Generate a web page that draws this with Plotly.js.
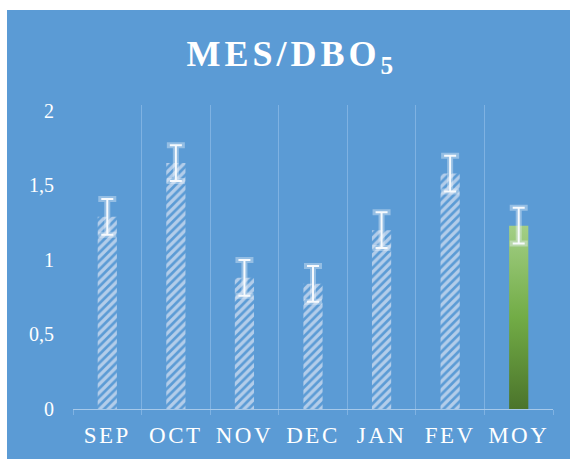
<!DOCTYPE html>
<html>
<head>
<meta charset="utf-8">
<script src="https://cdn.plot.ly/plotly-3.0.1.min.js"></script>
<style>
  html, body { margin: 0; padding: 0; background: #ffffff; width: 570px; height: 459px; overflow: hidden; }
  #chart { position: absolute; left: 7px; top: 10px; width: 563px; height: 449px; }
  .xtick text { letter-spacing: 2.5px; }
  .gtitle { letter-spacing: 4px; }
</style>
</head>
<body>
<div id="chart"></div>
<script>
// Data
const months = ['SEP', 'OCT', 'NOV', 'DEC', 'JAN', 'FEV', 'MOY'];
const values = [1.29, 1.65, 0.88, 0.84, 1.20, 1.58, 1.23];
const errors = [0.12, 0.12, 0.12, 0.12, 0.12, 0.12, 0.12];
const yTicks = [0, 0.5, 1, 1.5, 2];

// Styles
const hatchBg = '#b3cdea';
const hatchFg = '#f2f6fb';
const moyColor = '#70ad47';
const barColors = months.map(m => m === 'MOY' ? moyColor : hatchBg);
const barShapes = months.map(m => m === 'MOY' ? '' : '/');

const mainTrace = {
  type: 'bar',
  x: months,
  y: values,
  marker: {
    color: barColors,
    line: { width: 0 },
    pattern: { shape: barShapes, fgcolor: hatchFg, size: 6, solidity: 0.55, fillmode: 'replace' }
  },
  error_y: { type: 'data', array: errors, visible: true, color: '#ffffff', thickness: 2, width: 6 },
  hoverinfo: 'x+y'
};

const glowTrace = {
  type: 'bar',
  x: months,
  y: values,
  marker: { color: 'rgba(255,255,255,0)', line: { width: 0 } },
  error_y: { type: 'data', array: errors, visible: true, color: 'rgba(235,242,250,0.4)', thickness: 6, width: 9 },
  hoverinfo: 'skip',
  showlegend: false
};

const layout = {
  width: 563,
  height: 449,
  paper_bgcolor: '#5b9bd5',
  plot_bgcolor: '#5b9bd5',
  separators: ', ',
  showlegend: false,
  barmode: 'overlay',
  bargap: 0.72,
  margin: { l: 66, r: 17, t: 95, b: 50 },
  title: {
    text: 'MES/DBO<sub>5</sub>',
    font: { family: 'Liberation Serif', size: 36, color: '#ffffff', weight: 'bold' },
    x: 0.506, xanchor: 'center',
    yref: 'container', y: 0.903, yanchor: 'middle'
  },
  xaxis: {
    type: 'category',
    tickson: 'boundaries',
    showgrid: true,
    gridcolor: '#7fb2e2',
    gridwidth: 1,
    ticks: 'outside',
    ticklen: 5,
    tickcolor: '#7fb2e2',
    showline: true,
    linecolor: '#a6c9ea',
    linewidth: 1,
    zeroline: false,
    tickfont: { family: 'Liberation Serif', size: 23, color: '#ffffff' },
    ticklabelstandoff: 5,
    fixedrange: true
  },
  yaxis: {
    range: [0, 2.04],
    tickvals: yTicks,
    showgrid: false,
    zeroline: false,
    showline: false,
    ticks: '',
    tickfont: { family: 'Liberation Serif', size: 20, color: '#ffffff' },
    ticklabelstandoff: 18,
    fixedrange: true
  }
};

Plotly.newPlot('chart', [mainTrace, glowTrace], layout, { displayModeBar: false, staticPlot: true }).then(function (gd) {
  // Vertical gradient for the MOY bar
  const svg = gd.querySelector('svg.main-svg');
  const ns = 'http://www.w3.org/2000/svg';
  let defs = svg.querySelector('defs');
  if (!defs) { defs = document.createElementNS(ns, 'defs'); svg.insertBefore(defs, svg.firstChild); }
  const grad = document.createElementNS(ns, 'linearGradient');
  grad.setAttribute('id', 'moyGrad');
  grad.setAttribute('x1', '0'); grad.setAttribute('y1', '0');
  grad.setAttribute('x2', '0'); grad.setAttribute('y2', '1');
  [['0', '#a3cf86'], ['0.5', '#72ac46'], ['1', '#4b742b']].forEach(function (s) {
    const st = document.createElementNS(ns, 'stop');
    st.setAttribute('offset', s[0]);
    st.setAttribute('stop-color', s[1]);
    grad.appendChild(st);
  });
  defs.appendChild(grad);
  const traces = gd.querySelectorAll('.barlayer .trace');
  if (traces.length) {
    const paths = traces[0].querySelectorAll('.point path');
    const idx = months.indexOf('MOY');
    if (paths[idx]) { paths[idx].style.fill = 'url(#moyGrad)'; paths[idx].style.fillOpacity = 1; }
  }
});
</script>
</body>
</html>
